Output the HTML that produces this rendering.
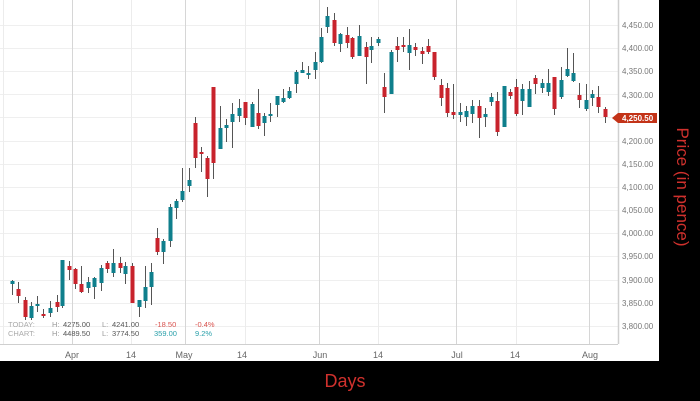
<!DOCTYPE html>
<html><head><meta charset="utf-8"><style>
html,body{margin:0;padding:0;background:#000;width:700px;height:401px;overflow:hidden}
svg{display:block}
text{font-family:"Liberation Sans",sans-serif}
</style></head><body>
<svg id="s" width="700" height="401" xmlns="http://www.w3.org/2000/svg">
<rect x="0" y="0" width="700" height="401" fill="#000"/>
<rect x="0" y="0" width="659" height="361" fill="#fff"/>
<g stroke="#efefef" stroke-width="1">
<line x1="0" x2="618" y1="25.5" y2="25.5"/><line x1="0" x2="618" y1="48.5" y2="48.5"/>
<line x1="0" x2="618" y1="71.5" y2="71.5"/><line x1="0" x2="618" y1="94.5" y2="94.5"/>
<line x1="0" x2="618" y1="117.5" y2="117.5"/><line x1="0" x2="618" y1="141.5" y2="141.5"/>
<line x1="0" x2="618" y1="164.5" y2="164.5"/><line x1="0" x2="618" y1="187.5" y2="187.5"/>
<line x1="0" x2="618" y1="210.5" y2="210.5"/><line x1="0" x2="618" y1="233.5" y2="233.5"/>
<line x1="0" x2="618" y1="256.5" y2="256.5"/><line x1="0" x2="618" y1="280.5" y2="280.5"/>
<line x1="0" x2="618" y1="303.5" y2="303.5"/><line x1="0" x2="618" y1="326.5" y2="326.5"/>
</g>
<g stroke="#ececec" stroke-width="1">
<line x1="131.5" x2="131.5" y1="0" y2="344"/><line x1="245.5" x2="245.5" y1="0" y2="344"/>
<line x1="378.5" x2="378.5" y1="0" y2="344"/><line x1="516.5" x2="516.5" y1="0" y2="344"/>
<line x1="3.5" x2="3.5" y1="0" y2="344"/>
</g>
<g stroke="#d6d6d6" stroke-width="1">
<line x1="72.5" x2="72.5" y1="0" y2="344"/><line x1="185.5" x2="185.5" y1="0" y2="344"/>
<line x1="319.5" x2="319.5" y1="0" y2="344"/><line x1="456.5" x2="456.5" y1="0" y2="344"/>
<line x1="589.5" x2="589.5" y1="0" y2="344"/>
</g>
<line x1="618.5" x2="618.5" y1="0" y2="344" stroke="#cfcfcf" stroke-width="1.5"/>
<line x1="0" x2="618" y1="344.5" y2="344.5" stroke="#cfcfcf" stroke-width="1"/>
<g id="c"></g>
<g font-size="8" fill="#777">
<text x="622" y="28">4,450.00</text><text x="622" y="51">4,400.00</text>
<text x="622" y="74">4,350.00</text><text x="622" y="98">4,300.00</text>
<text x="622" y="144">4,200.00</text><text x="622" y="167">4,150.00</text>
<text x="622" y="190">4,100.00</text><text x="622" y="213">4,050.00</text>
<text x="622" y="236">4,000.00</text><text x="622" y="259">3,950.00</text>
<text x="622" y="283">3,900.00</text><text x="622" y="306">3,850.00</text>
<text x="622" y="329">3,800.00</text>
</g>
<path d="M612 118 L618 113 L657 113 L657 123 L618 123 Z" fill="#c33318"/>
<text x="622" y="121" font-size="8" font-weight="bold" fill="#fff">4,250.50</text>
<g font-size="9" fill="#666" text-anchor="middle">
<text x="72" y="358">Apr</text><text x="131" y="358">14</text><text x="184" y="358">May</text>
<text x="242" y="358">14</text><text x="320" y="358">Jun</text><text x="378" y="358">14</text>
<text x="457" y="358">Jul</text><text x="515" y="358">14</text><text x="590" y="358">Aug</text>
</g>
<g font-size="7.5">
<text x="8" y="327" fill="#aaa">TODAY:</text><text x="52" y="327" fill="#999">H:</text><text x="63" y="327" fill="#555">4275.00</text>
<text x="102" y="327" fill="#999">L:</text><text x="112" y="327" fill="#555">4241.00</text>
<text x="155" y="327" fill="#d9534f">-18.50</text><text x="195" y="327" fill="#d9534f">-0.4%</text>
<text x="8" y="336" fill="#aaa">CHART:</text><text x="52" y="336" fill="#999">H:</text><text x="63" y="336" fill="#555">4489.50</text>
<text x="102" y="336" fill="#999">L:</text><text x="112" y="336" fill="#555">3774.50</text>
<text x="154" y="336" fill="#2aa0aa">359.00</text><text x="195" y="336" fill="#2aa0aa">9.2%</text>
</g>
<text x="345" y="387" font-size="18" fill="#d0312d" text-anchor="middle">Days</text>
<text transform="translate(677,187) rotate(90)" font-size="17" fill="#d0312d" text-anchor="middle">Price (in pence)</text>
</svg>
<script>
var d=[
[12,'t',281,284,280,295],[18,'r',289,296,282,303],[25,'r',300,317,297,320],[31,'t',306,318,302,320],
[37,'t',304,306,296,312],[43,'r',314,316,309,318],[50,'t',308,313,301,317],[57,'r',302,307,295,312],
[62,'t',260,306,260,308],[69,'r',266,270,261,280],[75,'r',269,284,268,289],[81,'r',284,292,266,293],
[88,'t',282,288,277,293],[94,'t',278,287,277,299],[101,'t',268,283,265,291],[107,'r',263,269,261,273],
[113,'t',263,273,249,277],[120,'r',263,268,257,273],[125,'t',266,274,262,284],[132,'r',266,303,263,303],
[139,'t',300,307,300,317],[145,'t',287,301,266,308],[151,'t',272,287,263,305],[157,'r',238,252,228,255],
[163,'t',241,252,239,264],[170,'t',207,241,204,247],[176,'t',201,208,199,219],[182,'t',191,200,168,202],
[189,'t',180,186,168,192],[195,'r',123,158,117,168],[201,'r',152,154,147,172],[207,'r',158,179,156,197],
[213,'r',87,163,87,179],[220,'t',128,149,106,149],[226,'t',125,128,119,142],[232,'t',114,122,103,148],
[239,'t',108,116,99,122],[245,'r',102,118,102,125],[252,'t',104,127,102,127],[258,'r',113,126,89,129],
[264,'t',116,123,113,136],[270,'t',114,116,103,122],[277,'t',96,105,96,117],[283,'t',98,102,89,103],
[289,'t',91,98,87,99],[296,'t',72,84,70,93],[302,'t',70,73,62,73],[308,'t',73,75,66,79],
[315,'t',62,70,52,79],[321,'t',37,62,28,63],[327,'t',16,27,7,33],[334,'r',20,43,13,46],
[340,'t',34,44,33,52],[347,'r',35,43,27,48],[352,'r',38,57,37,59],[359,'t',36,56,25,56],
[366,'r',47,57,42,84],[371,'t',46,50,37,63],[378,'t',39,43,37,46],[384,'r',87,97,73,113],
[391,'t',52,94,50,94],[397,'r',46,50,37,62],[403,'r',45,47,37,52],[409,'t',45,53,29,70],
[415,'r',47,50,43,56],[422,'r',51,54,47,64],[428,'r',46,52,39,54],[434,'r',52,77,52,80],
[441,'r',85,98,79,106],[447,'r',88,113,83,117],[453,'r',112,115,84,119],[460,'t',112,115,103,122],
[466,'t',111,117,106,126],[472,'t',106,114,100,123],[479,'r',106,118,100,138],[485,'t',114,117,108,127],
[491,'t',97,102,93,106],[497,'r',101,132,92,136],[504,'t',86,127,86,127],[510,'r',92,96,89,99],
[516,'r',87,114,79,116],[522,'t',89,101,84,115],[529,'t',89,107,81,107],[535,'r',78,84,75,94],
[542,'t',83,88,79,93],[548,'t',83,92,69,96],[554,'r',77,109,77,115],[561,'t',80,97,67,99],
[567,'t',69,76,48,77],[573,'t',73,81,53,82],[579,'r',95,100,83,108],[586,'t',100,109,84,111],
[592,'t',94,98,90,106],[598,'r',97,107,86,113],[605,'r',109,117,107,123]];
var h='';
d.forEach(function(c){
 var col=c[1]=='r'?'#c8232c':'#0f7f8c';
 h+='<line x1="'+(c[0]+.5)+'" x2="'+(c[0]+.5)+'" y1="'+c[4]+'" y2="'+c[5]+'" stroke="#555" stroke-width="1"/>';
 var hh=Math.max(c[3]-c[2],1.5);
 h+='<rect x="'+(c[0]-1.5)+'" y="'+c[2]+'" width="4" height="'+hh+'" fill="'+col+'"/>';
});
document.getElementById('c').innerHTML=h;
</script>
</body></html>
